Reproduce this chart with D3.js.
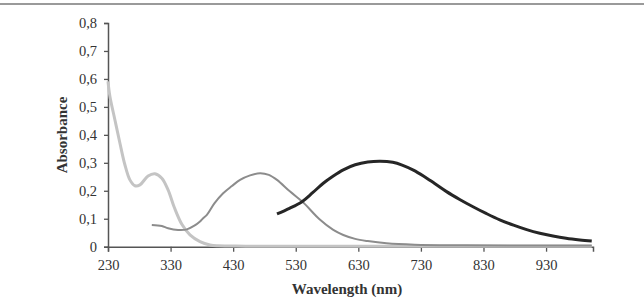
<!DOCTYPE html>
<html>
<head>
<meta charset="utf-8">
<script src="https://cdnjs.cloudflare.com/ajax/libs/d3/7.8.5/d3.min.js"></script>
<style>
  body { margin: 0; background: #fff; }
  text { font-family: "Liberation Serif", "Times New Roman", serif; fill: #333; }
</style>
</head>
<body>
<div id="chart"></div>
<script>
// x tick labels (nm) and y tick labels
var xTicks = [230, 330, 430, 530, 630, 730, 830, 930];
var yTicks = [0, 0.1, 0.2, 0.3, 0.4, 0.5, 0.6, 0.7, 0.8];

// light grey spectrum
var lightWl  = [230, 233, 241, 249, 257, 265, 273, 281, 294, 305, 316, 326, 336, 348, 361, 377, 393, 406, 450, 600, 800, 1003];
var lightAbs = [0.591, 0.538, 0.454, 0.371, 0.293, 0.239, 0.218, 0.221, 0.253, 0.261, 0.245, 0.203, 0.140, 0.080, 0.042, 0.018, 0.006, 0.003, 0.002, 0.002, 0.002, 0.002];

// mid grey spectrum
var midWl  = [300, 316, 326, 342, 356, 368, 377, 382, 388, 400, 414, 428, 441, 457, 473, 487, 500, 521, 542, 568, 590, 606, 625, 645, 675, 720, 800, 900, 1003];
var midAbs = [0.078, 0.074, 0.066, 0.060, 0.062, 0.075, 0.090, 0.102, 0.114, 0.155, 0.191, 0.217, 0.239, 0.255, 0.263, 0.257, 0.239, 0.197, 0.158, 0.098, 0.060, 0.042, 0.028, 0.020, 0.012, 0.007, 0.005, 0.004, 0.004];

// dark spectrum
var darkWl  = [500, 520, 540, 557, 574, 590, 606, 625, 645, 665, 685, 700, 718, 734, 752, 771, 792, 814, 835, 856, 878, 899, 920, 941, 962, 984, 1003];
var darkAbs = [0.117, 0.137, 0.161, 0.193, 0.227, 0.253, 0.275, 0.293, 0.303, 0.306, 0.302, 0.292, 0.274, 0.253, 0.226, 0.197, 0.169, 0.142, 0.118, 0.096, 0.077, 0.061, 0.048, 0.038, 0.030, 0.024, 0.020];

var W = 644, H = 305;
var svg = d3.select("#chart").append("svg")
    .attr("width", W)
    .attr("height", H);

// grey rule across the top
svg.append("line").attr("x1", 0).attr("x2", W).attr("y1", 4).attr("y2", 4)
    .attr("stroke", "#9a9a9a").attr("stroke-width", 2);

var x = d3.scaleLinear().domain([230, 1005]).range([108, 593]);
var y = d3.scaleLinear().domain([0, 0.8]).range([246.7, 23]);

var fmt = function(d) { return d === 0 ? "0" : d3.format(".1f")(d).replace(".", ","); };

var yAxis = svg.append("g").attr("transform", "translate(108,0)")
    .call(d3.axisLeft(y).tickValues(yTicks).tickFormat(fmt).tickSize(4).tickPadding(7));
var xAxis = svg.append("g").attr("transform", "translate(0,246.7)")
    .call(d3.axisBottom(x).tickValues(xTicks).tickFormat(d3.format("d")).tickSize(5).tickPadding(8));

[yAxis, xAxis].forEach(function(g) {
    g.select(".domain").attr("stroke", "#555").attr("stroke-width", 1.5);
    g.selectAll(".tick line").attr("stroke", "#555").attr("stroke-width", 1.3);
    g.selectAll(".tick text").attr("font-size", 14.5).attr("fill", "#333")
        .attr("font-family", "Liberation Serif, serif");
});

var line = d3.line()
    .x(function(d) { return x(d[0]); })
    .y(function(d) { return y(d[1]); })
    .curve(d3.curveCatmullRom.alpha(0.5));

function draw(wl, ab, color, width) {
    svg.append("path")
        .datum(d3.zip(wl, ab))
        .attr("d", line)
        .attr("fill", "none")
        .attr("stroke", color)
        .attr("stroke-width", width)
        .attr("stroke-linejoin", "round");
}

draw(lightWl, lightAbs, "#c4c4c4", 3);
draw(midWl, midAbs, "#8c8c8c", 2);
draw(darkWl, darkAbs, "#262626", 3);

// axis titles
svg.append("text").text("Absorbance")
    .attr("transform", "translate(67,135) rotate(-90)")
    .attr("text-anchor", "middle")
    .attr("font-weight", "bold").attr("font-size", 15);

svg.append("text").text("Wavelength (nm)")
    .attr("x", 347).attr("y", 294)
    .attr("text-anchor", "middle")
    .attr("font-weight", "bold").attr("font-size", 15);
</script>
</body>
</html>
